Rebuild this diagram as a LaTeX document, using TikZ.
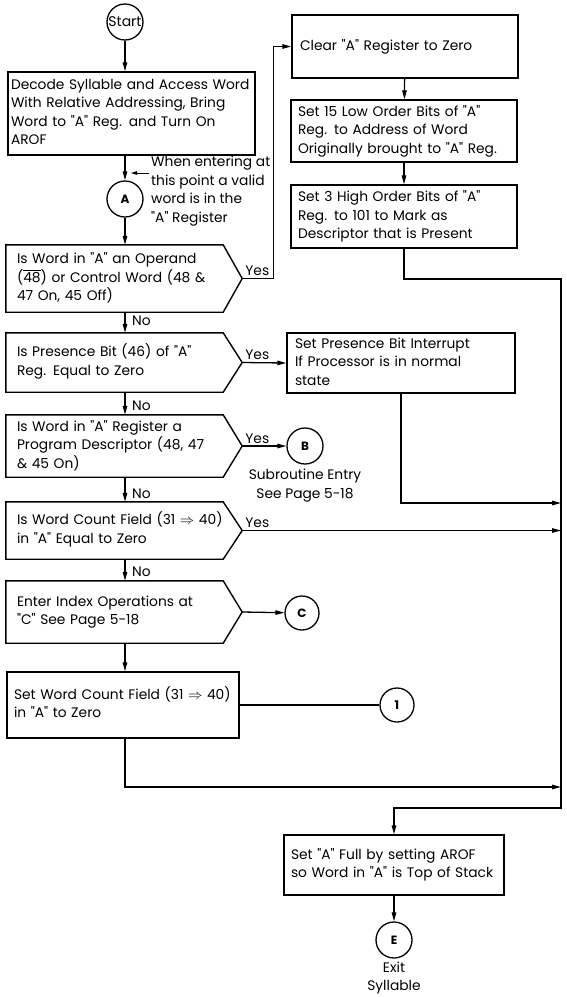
\documentclass[tikz,border=0pt]{standalone}
\usepackage{fontspec}
\setmainfont{Poppins}[Ligatures=TeXOff]
\usetikzlibrary{arrows.meta,calc}
\newcommand{\tlines}[1]{\begin{tabular}{@{}l@{}}#1\end{tabular}}
\newcommand{\pent}[1]{%
  \coordinate (#1tip) at ($(#1.east)+(19,0)$);
  \draw[dec] (#1.north west) -- (#1.north east) -- (#1tip) -- (#1.south east) -- (#1.south west) -- cycle;}
\begin{document}
\begin{tikzpicture}[x=1pt,y=-1pt,
  every node/.style={font=\fontsize{13.8}{18.5}\selectfont},
  box/.style={draw, line width=1.4pt, inner ysep=0pt, align=left},
  dtext/.style={inner ysep=0pt, inner xsep=11pt, text width=195pt, align=left},
  txt/.style={inner sep=0pt},
  circ/.style={draw, circle, line width=1.3pt, minimum size=36pt, inner sep=0pt, font=\fontsize{12}{12}\selectfont\bfseries},
  arr/.style={line width=1.3pt, -{Triangle[length=9pt,width=4.5pt]}},
  ln/.style={line width=1.3pt},
  dec/.style={line width=1.4pt, line join=miter}]
\fill[white] (0,0) rectangle (566,997);
\useasboundingbox (0,0) rectangle (566,997);

% circles
\node[circ, font=\fontsize{14}{14}\selectfont] (start) at (125,22) {Start};
\node[circ] (A) at (125,199) {A};
\node[circ] (B) at (305,446) {B};
\node[circ, minimum size=34pt] (C) at (302,613) {C};
\node[circ, minimum size=34pt] (one) at (397,705) {1};
\node[circ] (E) at (394,940) {E};

% boxes
\node[box, inner xsep=3pt, text width=241pt, minimum height=83pt] (decode) at (131.5,113.5)
  {\tlines{Decode Syllable and Access Word\\With Relative Addressing, Bring\\Word to "A" Reg. and Turn On\\AROF}};
\node[box, inner xsep=8pt, text width=210pt, minimum height=63pt] (clear) at (405,46.5)
  {\tlines{Clear "A" Register to Zero}};
\node[box, inner xsep=7pt, text width=212pt, minimum height=62pt] (low) at (404,131)
  {\tlines{Set 15 Low Order Bits of "A"\\Reg. to Address of Word\\Originally brought to "A" Reg.}};
\node[box, inner xsep=7pt, text width=212pt, minimum height=63pt] (high) at (404,216.5)
  {\tlines{Set 3 High Order Bits of "A"\\Reg. to 101 to Mark as\\Descriptor that is Present}};
\node[box, inner xsep=8pt, text width=212pt, minimum height=60pt] (pres) at (401,363)
  {\tlines{Set Presence Bit Interrupt\\If Processor is in normal\\state}};
\node[box, inner xsep=7pt, text width=218pt, minimum height=66pt] (setwc) at (123,705)
  {\tlines{Set Word Count Field (31 $\Rightarrow$ 40)\\in "A" to Zero}};
\node[box, inner xsep=7pt, text width=206pt, minimum height=60pt] (full) at (394,865)
  {\tlines{Set "A" Full by setting AROF\\so Word in "A" is Top of Stack}};

% decisions
\node[dtext, minimum height=67pt] (d1) at (114.5,278.5)
  {\tlines{Is Word in "A" an Operand\\($\overline{\hbox{48}}$) or Control Word (48 \&\\47 On, 45 Off)}};
\node[dtext, minimum height=59pt] (d2) at (114.5,362.5)
  {\tlines{Is Presence Bit (46) of "A"\\Reg. Equal to Zero}};
\node[dtext, minimum height=62pt] (d3) at (114.5,446)
  {\tlines{Is Word in "A" Register a\\Program Descriptor (48, 47\\\& 45 On)}};
\node[dtext, minimum height=57pt] (d4) at (114.5,530.5)
  {\tlines{Is Word Count Field (31 $\Rightarrow$ 40)\\in "A" Equal to Zero}};
\node[dtext, minimum height=62pt] (d5) at (114.5,612)
  {\tlines{Enter Index Operations at\\"C" See Page 5-18}};
\pent{d1}\pent{d2}\pent{d3}\pent{d4}\pent{d5}

% texts
\node[txt, anchor=north west, align=left] (note) at (151,156)
  {When entering at\\this point a valid\\word is in the\\"A" Register};
\node[txt, anchor=north, align=center] (subr) at (305,469) {Subroutine Entry\\See Page 5-18};
\node[txt, anchor=north, align=center, font=\fontsize{13.8}{18}\selectfont] (exit) at (394,962) {Exit\\Syllable};

% bus coordinates
\coordinate (bustop) at (561,279);
\coordinate (busbot) at (561,808);
\coordinate (j1) at (561,503);
\coordinate (j3) at (561,787);
\coordinate (entry) at (131,173);

% main column
\draw[arr] (start) -- (start |- decode.north);
\draw[arr] (decode.south -| A) -- (A);
\draw[arr] (A) -- (A |- d1.north);
\draw[arr] (d1.south -| A) -- (A |- d2.north);
\draw[arr] (d2.south -| A) -- (A |- d3.north);
\draw[arr] (d3.south -| A) -- (A |- d4.north);
\draw[arr] (d4.south -| A) -- (A |- d5.north);
\draw[arr] (d5.south -| A) -- (A |- setwc.north);
\draw[line width=1pt, -{Triangle[length=6pt,width=3.5pt]}] ([xshift=-2pt,yshift=-17pt]note.north west) -- (entry);

% yes branches
\draw[arr] (d1tip) -- ++(31,0) |- (clear.west);
\draw[arr] (d2tip) -- (pres.west);
\draw[arr] (d3tip) -- (B);
\draw[arr] (d4tip) -- (d4tip -| j1);
\draw[arr] (d5tip) -- (C);
\draw[ln] (setwc.east) -- (one);

% right column
\draw[arr] (clear) -- (low);
\draw[arr] (low) -- (high);
\draw[arr] (pres.south) |- (j1);
\draw[arr] (setwc.south -| A) |- (j3);
\draw[arr] (high.south) |- (bustop) -- (busbot) -| (full.north);
\draw[arr] (full) -- (E);

% labels
\node[txt, anchor=base west] (y1) at ([xshift=3pt,yshift=3pt]d1tip) {Yes};
\node[txt, anchor=base west] (y2) at ([xshift=3pt,yshift=3pt]d2tip) {Yes};
\node[txt, anchor=base west] (y3) at ([xshift=3pt,yshift=3pt]d3tip) {Yes};
\node[txt, anchor=base west] (y4) at ([xshift=3pt,yshift=3pt]d4tip) {Yes};
\node[txt, anchor=west] (n1) at (132,321) {No};
\node[txt, anchor=west] (n2) at (132,406) {No};
\node[txt, anchor=west] (n3) at (132,494) {No};
\node[txt, anchor=west] (n4) at (132,572) {No};
\end{tikzpicture}
\end{document}
